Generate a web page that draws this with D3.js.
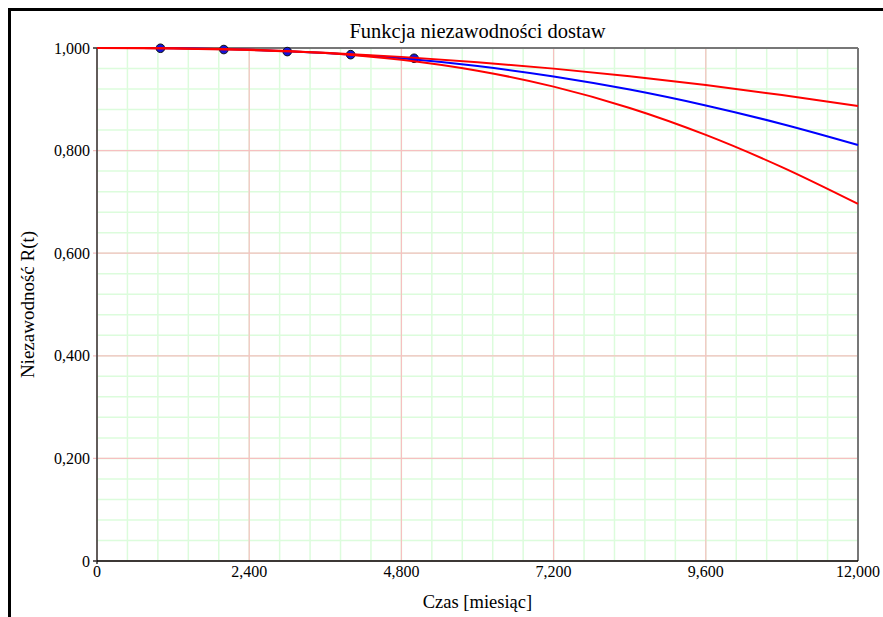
<!DOCTYPE html>
<html>
<head>
<meta charset="utf-8">
<script src="https://cdn.jsdelivr.net/npm/d3@7.9.0/dist/d3.min.js"></script>
<style>
  body { margin: 0; background: #fff; }
  svg { display: block; font-family: "Liberation Serif", "DejaVu Serif", serif; }
</style>
</head>
<body>
<svg width="883" height="617"></svg>
<script>
// time samples [months] and reliability readings
const times = [0, 1200, 2400, 3600, 4800, 6000, 7200, 8400, 9600, 10800, 12000];
const rMean = [1, 0.9994, 0.9965, 0.9903, 0.9800, 0.9648, 0.9446, 0.9190, 0.8880, 0.8520, 0.8110];
const rUpper = [1, 0.9990, 0.9959, 0.9905, 0.9827, 0.9724, 0.9598, 0.9449, 0.9277, 0.9084, 0.8870];
const rLower = [1, 0.9996, 0.9971, 0.9903, 0.9771, 0.9557, 0.9247, 0.8831, 0.8306, 0.7678, 0.6960];

// observed points
const pointT = [1000, 2000, 3000, 4000, 5000];
const pointR = [0.9995, 0.9970, 0.9930, 0.9870, 0.9800];

const xTicks = [0, 2400, 4800, 7200, 9600, 12000];
const yTicks = [0, 0.2, 0.4, 0.6, 0.8, 1.0];
const yTickLabels = ['0', '0,200', '0,400', '0,600', '0,800', '1,000'];
const xTickLabels = ['0', '2,400', '4,800', '7,200', '9,600', '12,000'];

const svg = d3.select('svg');
const pL = 97, pR = 858, pT = 48, pB = 561;

const x = d3.scaleLinear().domain([0, 12000]).range([pL, pR]);
const y = d3.scaleLinear().domain([0, 1]).range([pB, pT]);

// outer frame
svg.append('rect')
  .attr('x', 9.5).attr('y', 9.5)
  .attr('width', 1000).attr('height', 1000)
  .attr('fill', 'none').attr('stroke', '#000').attr('stroke-width', 3);

// minor grid
const grid = svg.append('g');
d3.range(0, 12001, 480).forEach(v => {
  grid.append('line')
    .attr('x1', x(v)).attr('x2', x(v)).attr('y1', pT).attr('y2', pB)
    .attr('stroke', '#dcfcdc').attr('stroke-width', 1.5);
});
d3.range(0, 1.0001, 0.04).forEach(v => {
  grid.append('line')
    .attr('x1', pL).attr('x2', pR).attr('y1', y(v)).attr('y2', y(v))
    .attr('stroke', '#dcfcdc').attr('stroke-width', 1.5);
});

// major grid (extends past the left axis as ticks)
xTicks.forEach(v => {
  grid.append('line')
    .attr('x1', x(v)).attr('x2', x(v)).attr('y1', pT).attr('y2', pB)
    .attr('stroke', '#f6c0c0').attr('stroke-width', 1.2);
});
yTicks.forEach(v => {
  grid.append('line')
    .attr('x1', pL - 4).attr('x2', pR).attr('y1', y(v)).attr('y2', y(v))
    .attr('stroke', '#f6c0c0').attr('stroke-width', 1.2);
});

// plot borders
svg.append('line').attr('x1', pL).attr('x2', pR).attr('y1', pT).attr('y2', pT)
  .attr('stroke', '#777').attr('stroke-width', 2);
svg.append('line').attr('x1', pR).attr('x2', pR).attr('y1', pT).attr('y2', pB)
  .attr('stroke', '#777').attr('stroke-width', 2);
svg.append('line').attr('x1', pL).attr('x2', pL).attr('y1', pT).attr('y2', pB + 3)
  .attr('stroke', '#333').attr('stroke-width', 1.5);
svg.append('line').attr('x1', pL).attr('x2', pR).attr('y1', pB).attr('y2', pB)
  .attr('stroke', '#000').attr('stroke-width', 1.5);
svg.append('line').attr('x1', pL - 4).attr('x2', pL).attr('y1', y(1)).attr('y2', y(1))
  .attr('stroke', '#333').attr('stroke-width', 1.5);
svg.append('line').attr('x1', pL - 4).attr('x2', pL).attr('y1', y(0)).attr('y2', y(0))
  .attr('stroke', '#333').attr('stroke-width', 1.5);

// tick labels
yTicks.forEach((v, i) => {
  svg.append('text')
    .attr('x', pL - 7).attr('y', y(v) + 5.5)
    .attr('text-anchor', 'end').attr('font-size', 16)
    .text(yTickLabels[i]);
});
xTicks.forEach((v, i) => {
  svg.append('text')
    .attr('x', x(v)).attr('y', pB + 16)
    .attr('text-anchor', 'middle').attr('font-size', 16)
    .text(xTickLabels[i]);
});

// titles
svg.append('text')
  .attr('x', (pL + pR) / 2).attr('y', 38)
  .attr('text-anchor', 'middle').attr('font-size', 20.5)
  .text('Funkcja niezawodności dostaw');
svg.append('text')
  .attr('x', (pL + pR) / 2).attr('y', 608)
  .attr('text-anchor', 'middle').attr('font-size', 18.5)
  .text('Czas [miesiąc]');
svg.append('text')
  .attr('transform', `translate(34,${(pT + pB) / 2}) rotate(-90)`)
  .attr('text-anchor', 'middle').attr('font-size', 19)
  .text('Niezawodność R(t)');

// points
svg.selectAll('circle.pt')
  .data(pointT)
  .join('circle')
  .attr('class', 'pt')
  .attr('cx', d => x(d))
  .attr('cy', (d, i) => y(pointR[i]))
  .attr('r', 4.3)
  .attr('fill', '#1414d8')
  .attr('stroke', '#111')
  .attr('stroke-width', 1);

// curves
const line = d3.line()
  .x((d, i) => x(times[i]))
  .y(d => y(d))
  .curve(d3.curveCatmullRom);

svg.append('path').attr('d', line(rMean))
  .attr('fill', 'none').attr('stroke', '#0000ff').attr('stroke-width', 2);
svg.append('path').attr('d', line(rUpper))
  .attr('fill', 'none').attr('stroke', '#ff0000').attr('stroke-width', 2);
svg.append('path').attr('d', line(rLower))
  .attr('fill', 'none').attr('stroke', '#ff0000').attr('stroke-width', 2);
</script>
</body>
</html>
